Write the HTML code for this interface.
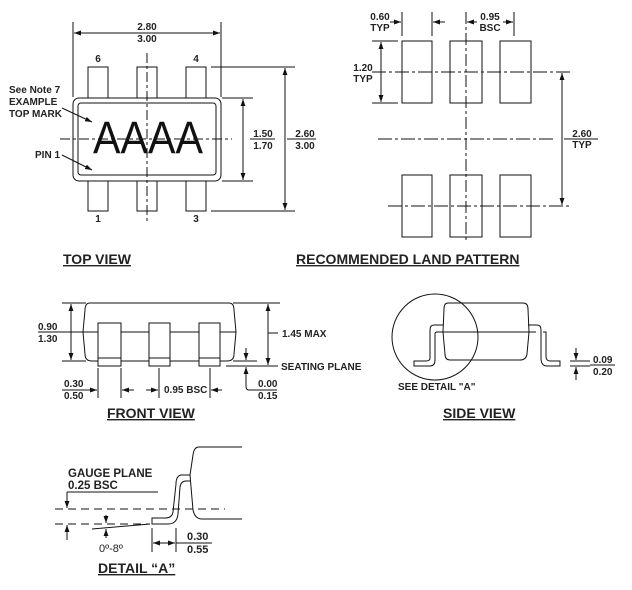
<!DOCTYPE html>
<html><head><meta charset="utf-8"><style>
html,body{margin:0;padding:0;background:#fff;}
svg{display:block;}
text{font-family:"Liberation Sans",Arial,sans-serif;font-weight:bold;fill:#222;}
.s{font-size:10px;}
.t{font-size:14px;text-decoration:underline;}
</style></head><body>
<svg width="632" height="590" viewBox="0 0 632 590" xmlns="http://www.w3.org/2000/svg">
<defs>
<marker id="a" viewBox="0 0 10 10" refX="10" refY="5" markerWidth="7" markerHeight="7" orient="auto-start-reverse" markerUnits="userSpaceOnUse"><path d="M0,1.5 L10,5 L0,8.5 z" fill="#111"/></marker>
</defs>
<g stroke="#111" stroke-width="1" fill="none">
<!-- TOP VIEW -->
<line x1="73" y1="22" x2="73" y2="97"/><line x1="221" y1="22" x2="221" y2="97"/>
<line x1="74" y1="33" x2="220" y2="33" marker-start="url(#a)" marker-end="url(#a)"/>
<rect x="88" y="67" width="20" height="31" fill="#fff"/><rect x="137" y="67" width="20" height="31" fill="#fff"/><rect x="186" y="67" width="20" height="31" fill="#fff"/>
<rect x="88" y="181" width="20" height="30" fill="#fff"/><rect x="137" y="181" width="20" height="30" fill="#fff"/><rect x="186" y="181" width="20" height="30" fill="#fff"/>
<rect x="73" y="98" width="148" height="83" rx="6" fill="#fff"/>
<rect x="78" y="103" width="138" height="72" rx="3"/>
<line x1="147" y1="53" x2="147" y2="223" stroke-dasharray="10,3,3,3"/>
<line x1="60" y1="139" x2="232" y2="139" stroke-dasharray="10,3,3,3"/>
<line x1="222" y1="98" x2="253" y2="98"/><line x1="222" y1="181" x2="253" y2="181"/>
<line x1="243" y1="99" x2="243" y2="180" marker-start="url(#a)" marker-end="url(#a)"/>
<line x1="250" y1="139" x2="275" y2="139"/>
<line x1="211" y1="67" x2="295" y2="67"/><line x1="211" y1="211" x2="295" y2="211"/>
<line x1="285" y1="68" x2="285" y2="210" marker-start="url(#a)" marker-end="url(#a)"/>
<line x1="287" y1="139" x2="316" y2="139"/>
<line x1="62" y1="108" x2="92" y2="122" marker-end="url(#a)"/>
<line x1="62" y1="155" x2="92" y2="170" marker-end="url(#a)"/>
<!-- LAND PATTERN -->
<rect x="402" y="41" width="30" height="62"/><rect x="450" y="41" width="32" height="62"/><rect x="500" y="41" width="31" height="62"/>
<rect x="402" y="175" width="30" height="62"/><rect x="450" y="175" width="32" height="62"/><rect x="500" y="175" width="31" height="62"/>
<line x1="466" y1="12" x2="466" y2="242" stroke-dasharray="12,3,3,3"/>
<line x1="372" y1="72" x2="572" y2="72" stroke-dasharray="14,3,3,3"/>
<line x1="378" y1="139" x2="555" y2="139" stroke-dasharray="14,3,3,3"/>
<line x1="388" y1="206" x2="572" y2="206" stroke-dasharray="14,3,3,3"/>
<line x1="372" y1="41" x2="398" y2="41"/><line x1="372" y1="103" x2="398" y2="103"/>
<line x1="381" y1="42" x2="381" y2="102" marker-start="url(#a)" marker-end="url(#a)"/>
<line x1="562" y1="73" x2="562" y2="205" marker-start="url(#a)" marker-end="url(#a)"/>
<line x1="564" y1="139" x2="598" y2="139"/>
<line x1="402" y1="12" x2="402" y2="36"/><line x1="432" y1="12" x2="432" y2="36"/><line x1="514" y1="12" x2="514" y2="36"/>
<line x1="390" y1="22" x2="401" y2="22" marker-end="url(#a)"/>
<line x1="445" y1="22" x2="433" y2="22" marker-end="url(#a)"/>
<line x1="477" y1="22" x2="467" y2="22" marker-end="url(#a)"/>
<line x1="503" y1="22" x2="513" y2="22" marker-end="url(#a)"/>
<!-- FRONT VIEW -->
<path d="M90,303 L229,303 Q234,303 234,310 L236,332 L234,354 Q234,361 227,361 L92,361 Q85,361 85,354 L83,332 L85,310 Q85,303 90,303 Z"/>
<line x1="83" y1="332" x2="236" y2="332"/>
<rect x="98" y="323" width="23" height="43" fill="#fff"/><rect x="149" y="323" width="21" height="43" fill="#fff"/><rect x="199" y="323" width="21" height="43" fill="#fff"/>
<line x1="98" y1="358" x2="121" y2="358"/><line x1="149" y1="358" x2="170" y2="358"/><line x1="199" y1="358" x2="220" y2="358"/>
<line x1="62" y1="303" x2="86" y2="303"/><line x1="62" y1="361" x2="86" y2="361"/>
<line x1="71" y1="304" x2="71" y2="360" marker-start="url(#a)" marker-end="url(#a)"/>
<line x1="38" y1="332" x2="83" y2="332"/>
<line x1="233" y1="303" x2="280" y2="303"/><line x1="226" y1="366" x2="278" y2="366"/>
<line x1="268" y1="304" x2="268" y2="365" marker-start="url(#a)" marker-end="url(#a)"/>
<line x1="268" y1="333" x2="278" y2="333"/>
<line x1="233" y1="361" x2="257" y2="361"/>
<line x1="246" y1="348" x2="246" y2="360" marker-end="url(#a)"/>
<path d="M277,390 L249,390 Q246,390 246,386 L246,367" marker-end="url(#a)"/>
<line x1="98" y1="368" x2="98" y2="398"/><line x1="121" y1="368" x2="121" y2="398"/>
<line x1="159" y1="368" x2="159" y2="398"/><line x1="210" y1="368" x2="210" y2="398"/>
<line x1="62" y1="390" x2="97" y2="390" marker-end="url(#a)"/>
<line x1="134" y1="390" x2="122" y2="390" marker-end="url(#a)"/>
<line x1="146" y1="390" x2="158" y2="390" marker-end="url(#a)"/>
<line x1="222" y1="390" x2="211" y2="390" marker-end="url(#a)"/>
<!-- SIDE VIEW -->
<circle cx="435" cy="337" r="43"/>
<path d="M448,303 L523,303 Q528,303 528,309 L529,332 L527,354 Q526,360 520,360 L450,360 Q445,360 445,354 L443,332 L444,309 Q444,303 448,303 Z"/>
<line x1="436" y1="332" x2="536" y2="332"/>
<path d="M443,325 L434,325 Q430,325 430,330 L430,358 Q430,361 426,361 L414,361 L414,366 L430,366 Q435,366 435,360 L435,334 Q435,332 437,332"/>
<path d="M528,325 L537,325 Q541,325 541,330 L541,358 Q541,366 547,366 L560,366 L560,361 L550,361 Q546,361 546,356 L546,332 Q546,332 543,332"/>
<line x1="570" y1="361" x2="590" y2="361"/><line x1="570" y1="366" x2="590" y2="366"/>
<line x1="576" y1="348" x2="576" y2="360" marker-end="url(#a)"/>
<line x1="576" y1="380" x2="576" y2="367" marker-end="url(#a)"/>
<line x1="590" y1="365" x2="615" y2="365"/>
<!-- DETAIL A -->
<path d="M242,447 L199,447 Q194,447 193,455 L190,475 L193,510 Q195,519 202,519 L242,519"/>
<path d="M190,475 L181,475 Q176,476 176,484 L173,512 Q172,518 165,518 L152,518 L152,524 L168,524 Q177,524 178,514 L180,487 Q181,481 186,481 L190,481"/>
<line x1="55" y1="509" x2="225" y2="509" stroke-dasharray="8,5"/>
<line x1="55" y1="524" x2="150" y2="524" stroke-dasharray="8,5"/>
<line x1="67" y1="492" x2="158" y2="492"/>
<line x1="67" y1="492" x2="67" y2="508" marker-end="url(#a)"/>
<line x1="67" y1="540" x2="67" y2="525" marker-end="url(#a)"/>
<line x1="92" y1="529" x2="150" y2="524"/>
<line x1="106" y1="515" x2="106" y2="523" marker-end="url(#a)"/>
<line x1="106" y1="538" x2="106" y2="529" marker-end="url(#a)"/>
<line x1="152" y1="528" x2="152" y2="552"/><line x1="176" y1="528" x2="176" y2="552"/>
<line x1="153" y1="543" x2="175" y2="543" marker-start="url(#a)" marker-end="url(#a)"/>
<line x1="176" y1="543" x2="212" y2="543"/>
</g>
<!-- texts -->
<text x="147" y="30" class="s" text-anchor="middle">2.80</text>
<text x="147" y="42" class="s" text-anchor="middle">3.00</text>
<text x="98" y="62" class="s" text-anchor="middle">6</text>
<text x="196" y="62" class="s" text-anchor="middle">4</text>
<text x="98" y="222" class="s" text-anchor="middle">1</text>
<text x="196" y="222" class="s" text-anchor="middle">3</text>
<text x="148" y="153" text-anchor="middle" style="font-size:45px;font-weight:normal;fill:#111;" textLength="110" lengthAdjust="spacingAndGlyphs">AAAA</text>
<text x="9" y="93" class="s">See Note 7</text>
<text x="9" y="105" class="s">EXAMPLE</text>
<text x="9" y="117" class="s">TOP MARK</text>
<text x="35" y="158" class="s">PIN 1</text>
<text x="263" y="137" class="s" text-anchor="middle">1.50</text>
<text x="263" y="149" class="s" text-anchor="middle">1.70</text>
<text x="305" y="137" class="s" text-anchor="middle">2.60</text>
<text x="305" y="149" class="s" text-anchor="middle">3.00</text>
<text x="63" y="264" class="t">TOP VIEW</text>
<text x="380" y="20" class="s" text-anchor="middle">0.60</text>
<text x="380" y="31" class="s" text-anchor="middle">TYP</text>
<text x="490" y="20" class="s" text-anchor="middle">0.95</text>
<text x="490" y="31" class="s" text-anchor="middle">BSC</text>
<text x="363" y="71" class="s" text-anchor="middle">1.20</text>
<text x="363" y="82" class="s" text-anchor="middle">TYP</text>
<text x="582" y="137" class="s" text-anchor="middle">2.60</text>
<text x="582" y="148" class="s" text-anchor="middle">TYP</text>
<text x="296" y="264" class="t">RECOMMENDED LAND PATTERN</text>
<text x="38" y="330" class="s">0.90</text>
<text x="38" y="342" class="s">1.30</text>
<text x="282" y="337" class="s">1.45 MAX</text>
<text x="281" y="370" class="s">SEATING PLANE</text>
<text x="258" y="387" class="s">0.00</text>
<text x="258" y="399" class="s">0.15</text>
<text x="64" y="387" class="s">0.30</text>
<text x="64" y="399" class="s">0.50</text>
<text x="164" y="393" class="s">0.95 BSC</text>
<text x="107" y="418" class="t">FRONT VIEW</text>
<text x="398" y="390" class="s">SEE DETAIL "A"</text>
<text x="593" y="363" class="s">0.09</text>
<text x="593" y="375" class="s">0.20</text>
<text x="443" y="418" class="t">SIDE VIEW</text>
<text x="68" y="477" style="font-size:11.5px">GAUGE PLANE</text>
<text x="68" y="489" style="font-size:11.5px">0.25 BSC</text>
<text x="99" y="552" style="font-weight:normal;font-size:11px">0º-8º</text>
<text x="187" y="540" style="font-size:11px">0.30</text>
<text x="187" y="553" style="font-size:11px">0.55</text>
<text x="98" y="573" class="t">DETAIL “A”</text>
</svg>
</body></html>
